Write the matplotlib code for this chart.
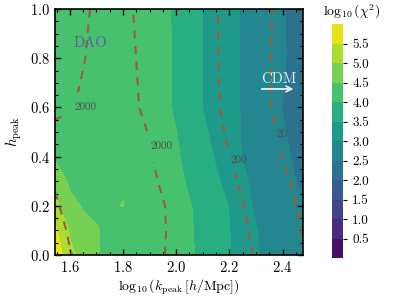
import numpy as np
import matplotlib
matplotlib.use("Agg")
import matplotlib.pyplot as plt
from matplotlib.ticker import MultipleLocator, AutoMinorLocator

# grid (log10 k_peak, h_peak)
log_k = [1.544, 1.60, 1.65, 1.70, 1.80, 1.90, 2.00, 2.10, 2.20, 2.30, 2.40, 2.477]
h_peak = [0.0, 0.1, 0.2, 0.3, 0.4, 0.6, 0.8, 1.0]

# log10(chi^2), one row per h_peak
logchi2 = [
    [5.90, 5.10, 4.85, 4.52, 4.30, 4.22, 4.11, 3.95, 3.53, 3.04, 2.72, 2.58],
    [5.60, 4.95, 4.62, 4.53, 4.30, 4.22, 4.11, 3.94, 3.51, 3.02, 2.70, 2.55],
    [5.15, 4.62, 4.47, 4.42, 4.51, 4.22, 4.10, 3.93, 3.48, 2.92, 2.70, 2.52],
    [4.85, 4.42, 4.38, 4.36, 4.46, 4.20, 4.07, 3.85, 3.31, 2.88, 2.60, 2.45],
    [4.42, 4.37, 4.34, 4.30, 4.26, 4.18, 4.04, 3.77, 3.10, 2.88, 2.56, 2.41],
    [4.38, 4.33, 4.30, 4.27, 4.22, 4.13, 3.97, 3.49, 3.13, 2.80, 2.49, 2.28],
    [4.32, 4.30, 4.28, 4.26, 4.21, 4.13, 3.97, 3.49, 3.12, 2.80, 2.54, 2.32],
    [4.30, 4.28, 4.27, 4.25, 4.20, 4.12, 3.97, 3.49, 3.12, 2.80, 2.53, 2.30],
]

# log10 of the quantity shown by the dashed lines
loglines = [
    [2.90, 3.27, 3.45, 3.50, 3.50, 3.45, 3.19, 2.90, 2.60, 2.26, 1.75, 1.40],
    [3.05, 3.38, 3.50, 3.50, 3.50, 3.45, 3.21, 2.90, 2.57, 2.20, 1.70, 1.28],
    [3.22, 3.50, 3.50, 3.50, 3.48, 3.44, 3.20, 2.85, 2.50, 2.14, 1.62, 1.15],
    [3.36, 3.48, 3.49, 3.48, 3.45, 3.40, 3.08, 2.74, 2.40, 2.06, 1.42, 1.10],
    [3.454, 3.462, 3.46, 3.45, 3.43, 3.33, 3.00, 2.66, 2.30, 1.82, 1.28, 0.90],
    [3.25, 3.28, 3.34, 3.38, 3.38, 3.25, 2.90, 2.53, 2.17, 1.58, 1.10, 0.75],
    [3.12, 3.20, 3.29, 3.36, 3.36, 3.24, 2.88, 2.51, 2.15, 1.57, 1.10, 0.75],
    [3.10, 3.18, 3.26, 3.34, 3.35, 3.22, 2.86, 2.50, 2.15, 1.60, 1.11, 0.75],
]
line_values = [20, 200, 2000]
fill_levels = np.arange(0, 6.01, 0.5)
cbar_ticks = [0.5, 1.0, 1.5, 2.0, 2.5, 3.0, 3.5, 4.0, 4.5, 5.0, 5.5]

plt.rcParams['font.family'] = 'serif'
plt.rcParams['font.serif'] = ['cmr10']
plt.rcParams['mathtext.fontset'] = 'cm'
plt.rcParams['axes.formatter.use_mathtext'] = True
plt.rcParams['axes.unicode_minus'] = False

fig = plt.figure(figsize=(3.99, 2.99), dpi=100)
ax = fig.add_axes([55/399, 44/299, 248/399, 246/299])
cax = fig.add_axes([331.7/399, 41/299, 11.6/399, 234/299])

X, Y = np.meshgrid(log_k, h_peak)
cf = ax.contourf(X, Y, np.array(logchi2), levels=fill_levels, cmap='viridis')

cs = ax.contour(X, Y, np.array(loglines), levels=np.log10(line_values),
                colors='#9e5a3c', linewidths=1.5, linestyles=[(0, (4, 3.5))])
fmt = {lev: str(v) for lev, v in zip(cs.levels, line_values)}
labels = ax.clabel(cs, fmt=fmt, fontsize=8, colors='0.3', inline=True,
                   manual=[(1.627, 0.59), (1.90, 0.44), (2.205, 0.385), (2.371, 0.49)])
for t in labels:
    t.set_rotation(0)
    t.set_ha('left')

ax.text(1.612, 0.862, 'DAO', color='#5b5e9e', fontsize=10.5, va='center')
ax.text(2.318, 0.715, 'CDM', color='#e8eef2', fontsize=10.5, va='center')
ax.annotate('', xy=(2.452, 0.675), xytext=(2.311, 0.675),
            arrowprops=dict(arrowstyle='->', color='#e8eef2', lw=1.3))

ax.set_xlim(1.544, 2.477)
ax.set_ylim(0, 1)
ax.xaxis.set_major_locator(MultipleLocator(0.2))
ax.yaxis.set_major_locator(MultipleLocator(0.2))
ax.xaxis.set_minor_locator(AutoMinorLocator(4))
ax.yaxis.set_minor_locator(AutoMinorLocator(4))
ax.tick_params(which='both', direction='in', top=True, right=True, labelsize=10.5)
ax.tick_params(which='major', length=4, width=1)
ax.tick_params(which='minor', length=2, width=0.8)
for s in ax.spines.values():
    s.set_linewidth(1.2)
ax.set_xlabel(r'$\log_{10}(k_{\rm peak}\,[h/{\rm Mpc}])$', fontsize=10, labelpad=2)
ax.set_ylabel(r'$h_{\rm peak}$', fontsize=10.5)

cb = fig.colorbar(cf, cax=cax, ticks=cbar_ticks)
cb.outline.set_visible(False)
cb.ax.tick_params(labelsize=9.5, length=3, width=0.8)
cb.ax.set_yticklabels([f'{v:.1f}' for v in cbar_ticks])
fig.text(352/399, 1 - 12/299, r'$\log_{10}(\chi^2)$', ha='center', va='center', fontsize=10)

fig.savefig('out.png', dpi=100)
